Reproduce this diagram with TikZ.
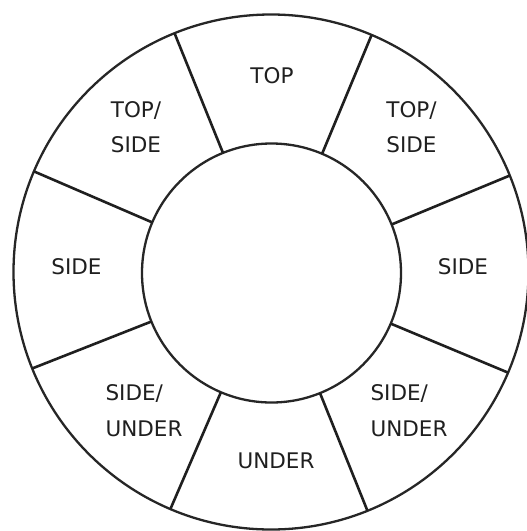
\documentclass[tikz,border=0pt]{standalone}
\usepackage{fontspec}
\setmainfont{DejaVu Sans}
\begin{document}
\begin{tikzpicture}[x=1pt,y=-1pt,
  ring/.style={circle,draw=black!85,line width=2.3pt,inner sep=0pt,outer sep=0pt},
  spoke/.style={draw=black!88,line width=2.6pt},
  lbl/.style={text=black!88,inner sep=0pt,align=left,font=\fontsize{21.5}{35.5}\selectfont}]
\useasboundingbox (0,0) rectangle (527,531);
\fill[white] (0,0) rectangle (527,531);
\node[ring,minimum size=515pt] (outer) at (271,272) {};
\node[ring,minimum size=259pt] (inner) at (271.5,273) {};
\foreach \a in {22.5,67.5,112.5,157.5,202.5,247.5,292.5,337.5}{
  \draw[spoke] (inner.\a) -- (outer.\a);
}
\node[lbl] (top) at (272,76) {TOP};
\node[lbl] (tsl) at (136,127) {TOP/\\SIDE};
\node[lbl] (tsr) at (411.5,127) {TOP/\\SIDE};
\node[lbl] (sl) at (76.5,267) {SIDE};
\node[lbl] (sr) at (463,267) {SIDE};
\node[lbl] (sul) at (144,410.5) {SIDE/\\UNDER};
\node[lbl] (sur) at (409,410.5) {SIDE/\\UNDER};
\node[lbl] (und) at (276,461) {UNDER};
\end{tikzpicture}
\end{document}
